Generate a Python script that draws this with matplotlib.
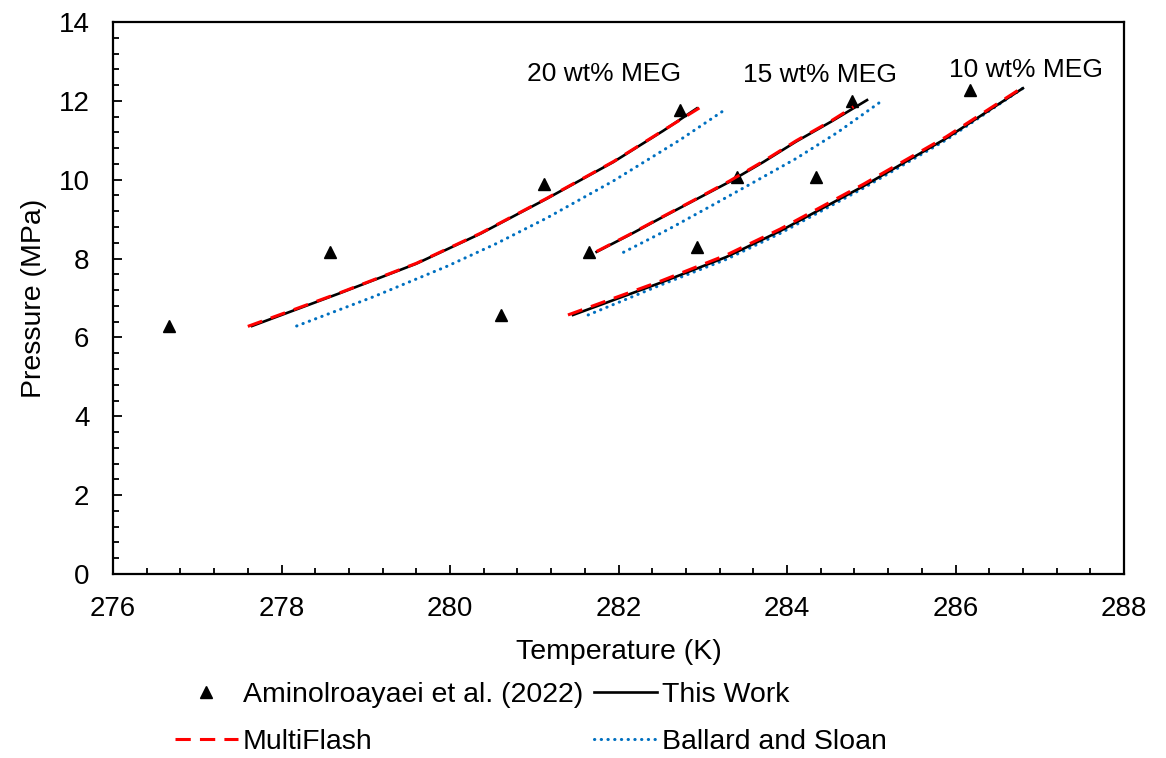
import matplotlib
matplotlib.use("Agg")
import matplotlib.pyplot as plt
from matplotlib.ticker import MultipleLocator
from matplotlib.lines import Line2D

plt.rcParams['font.family'] = ['Liberation Sans', 'DejaVu Sans']

# Experimental hydrate equilibrium points
exp_T = [276.66, 278.58, 280.61, 281.12, 281.65, 282.73, 282.93, 283.41, 284.34, 284.77, 286.17]
exp_P = [6.29, 8.17, 6.57, 9.89, 8.17, 11.77, 8.29, 10.07, 10.07, 12.00, 12.27]

# 20 wt% MEG
tw20_T = [277.65, 278.69, 279.60, 280.36, 281.15, 281.94, 282.53, 282.93]
tw20_P = [6.29, 7.12, 7.87, 8.63, 9.52, 10.45, 11.24, 11.81]
mf20_T = [277.60, 278.69, 279.60, 280.36, 281.15, 281.94, 282.53, 282.96]
mf20_P = [6.28, 7.13, 7.88, 8.64, 9.53, 10.46, 11.25, 11.82]
bs20_T = [278.18, 279.09, 279.96, 280.55, 281.15, 281.94, 282.73, 283.26]
bs20_P = [6.29, 7.03, 7.80, 8.38, 9.03, 9.97, 11.01, 11.77]

# 15 wt% MEG
tw15_T = [281.74, 282.13, 282.53, 282.92, 283.32, 283.72, 284.11, 284.53, 284.95]
tw15_P = [8.17, 8.60, 9.06, 9.50, 9.95, 10.45, 10.97, 11.48, 12.02]
mf15_T = [281.74, 282.13, 282.53, 282.92, 283.32, 283.72, 284.11, 284.53, 284.79]
mf15_P = [8.18, 8.61, 9.07, 9.51, 9.97, 10.47, 10.99, 11.50, 11.85]
bs15_T = [282.06, 282.60, 283.12, 283.60, 284.11, 284.60, 285.10]
bs15_P = [8.16, 8.75, 9.36, 9.93, 10.54, 11.20, 11.96]

# 10 wt% MEG
tw10_T = [281.46, 282.49, 283.28, 283.92, 284.91, 285.89, 286.80]
tw10_P = [6.57, 7.38, 8.04, 8.70, 9.84, 11.05, 12.32]
mf10_T = [281.40, 282.49, 283.28, 283.92, 284.91, 285.89, 286.78]
mf10_P = [6.57, 7.42, 8.09, 8.75, 9.89, 11.09, 12.32]
bs10_T = [281.64, 282.49, 283.28, 283.92, 284.91, 285.89, 286.80]
bs10_P = [6.57, 7.32, 7.98, 8.64, 9.79, 11.01, 12.32]

labels = ["20 wt% MEG", "15 wt% MEG", "10 wt% MEG"]
label_T = [281.83, 284.39, 286.84]
label_P = [12.68, 12.66, 12.78]

BLACK = "#000000"
RED = "#FF0000"
BLUE = "#0070C0"
FS = 20.5
FS_TICK = 20
FS_NOTE = 19

fig = plt.figure(figsize=(11.66, 7.58), dpi=100)
ax = fig.add_axes([113 / 1166, 1 - 574 / 758, (1124 - 113) / 1166, (574 - 22) / 758])

ax.plot(exp_T, exp_P, linestyle='none', marker='^', color=BLACK, markersize=9, zorder=2)

bs_kw = dict(color=BLUE, lw=2.2, dashes=(0.1, 2.1), dash_capstyle='round', zorder=3)
tw_kw = dict(color=BLACK, lw=1.9, zorder=4)
mf_kw = dict(color=RED, lw=2.2, dashes=(5, 3), zorder=5)

for T, P in [(bs20_T, bs20_P), (bs15_T, bs15_P), (bs10_T, bs10_P)]:
    ax.plot(T, P, **bs_kw)
for T, P in [(tw20_T, tw20_P), (tw15_T, tw15_P), (tw10_T, tw10_P)]:
    ax.plot(T, P, **tw_kw)
for T, P in [(mf20_T, mf20_P), (mf15_T, mf15_P), (mf10_T, mf10_P)]:
    ax.plot(T, P, **mf_kw)

for s, x, y in zip(labels, label_T, label_P):
    ax.text(x, y, s, fontsize=FS_NOTE, ha='center', va='center')

ax.set_xlim(276, 288)
ax.set_ylim(0, 14)
ax.xaxis.set_major_locator(MultipleLocator(2))
ax.xaxis.set_minor_locator(MultipleLocator(0.4))
ax.yaxis.set_major_locator(MultipleLocator(2))
ax.yaxis.set_minor_locator(MultipleLocator(0.4))
ax.tick_params(which='both', direction='in', width=1.3, top=False, right=False)
ax.tick_params(which='major', length=6.5)
ax.tick_params(which='minor', length=4.5)
ax.tick_params(axis='x', which='major', pad=16, labelsize=FS_TICK)
ax.tick_params(axis='y', which='major', pad=17, labelsize=FS_TICK)
for sp in ax.spines.values():
    sp.set_linewidth(1.6)

ax.set_xlabel("Temperature (K)", fontsize=FS, labelpad=12)
ax.set_ylabel("Pressure (MPa)", fontsize=FS, labelpad=8)

handles = [
    Line2D([], [], linestyle='none', marker='^', color=BLACK, markersize=9),
    Line2D([], [], **{k: v for k, v in mf_kw.items() if k != 'zorder'}),
    Line2D([], [], **{k: v for k, v in tw_kw.items() if k != 'zorder'}),
    Line2D([], [], **{k: v for k, v in bs_kw.items() if k != 'zorder'}),
]
names = ["Aminolroayaei et al. (2022)", "MultiFlash", "This Work", "Ballard and Sloan"]
fig.legend(handles, names, ncol=2, loc='upper left',
           bbox_to_anchor=(175 / 1166, 1 - 682 / 758), frameon=False,
           fontsize=FS, handlelength=2.2, handletextpad=0.18, columnspacing=0.4,
           labelspacing=0.75, borderpad=0, borderaxespad=0, numpoints=1)

fig.savefig("out.png", dpi=100)
